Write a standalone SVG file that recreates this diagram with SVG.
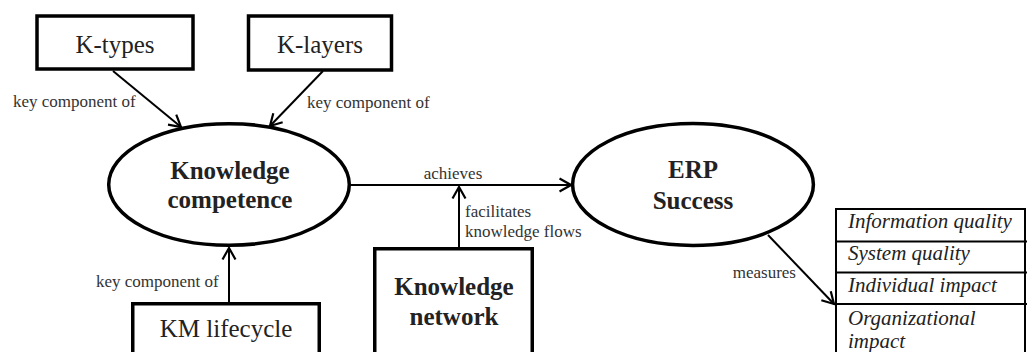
<svg xmlns="http://www.w3.org/2000/svg" width="1027" height="352" viewBox="0 0 1027 352">
  <defs>
    <marker id="open-arrow" viewBox="0 0 14 16" refX="12.5" refY="8" markerWidth="14" markerHeight="16" markerUnits="userSpaceOnUse" orient="auto">
      <path d="M1,1.5 L12.5,8 L1,14.5" fill="none" stroke="#000" stroke-width="2.2" stroke-linejoin="miter"/>
    </marker>
    <style>
      .box { fill: #fff; stroke: #000; stroke-width: 3.5; }
      .oval { fill: #fff; stroke: #000; stroke-width: 3.5; }
      .edge { fill: none; stroke: #000; stroke-width: 2; }
      .arrow { marker-end: url(#open-arrow); }
      text { font-family: 'Liberation Serif', Tinos, 'Times New Roman', Times, 'DejaVu Serif', serif; }
      .title { font-size: 25px; fill: #222; text-anchor: middle; }
      .bold { font-weight: bold; }
      .label { font-size: 17px; fill: #333; }
      .cell { font-size: 21px; font-style: italic; fill: #222; }
      .grid { fill: none; stroke: #000; stroke-width: 2; }
    </style>
  </defs>
  <rect width="1027" height="352" fill="#fff"/>

  <!-- connectors -->
  <g id="connectors">
    <line class="edge arrow" x1="113" y1="71" x2="181" y2="127"/>
    <line class="edge arrow" x1="323" y1="71" x2="270" y2="126"/>
    <line class="edge arrow" x1="229" y1="302" x2="229" y2="248"/>
    <line class="edge arrow" x1="351" y1="185" x2="571" y2="185"/>
    <line class="edge arrow" x1="459" y1="248" x2="459" y2="187"/>
    <line class="edge arrow" x1="768" y1="235" x2="834" y2="304"/>
    <text class="label" x="13" y="107">key component of</text>
    <text class="label" x="307" y="108">key component of</text>
    <text class="label" x="96" y="287">key component of</text>
    <text class="label" x="453" y="179" text-anchor="middle">achieves</text>
    <text class="label" x="465" y="217">facilitates</text>
    <text class="label" x="465" y="237">knowledge flows</text>
    <text class="label" x="796" y="278" text-anchor="end">measures</text>
  </g>

  <g id="k-types">
    <rect class="box" x="37" y="16" width="156" height="53"/>
    <text class="title" x="115" y="53">K-types</text>
  </g>

  <g id="k-layers">
    <rect class="box" x="248.5" y="16" width="143" height="54"/>
    <text class="title" x="320" y="53">K-layers</text>
  </g>

  <g id="knowledge-competence">
    <ellipse class="oval" cx="229" cy="184.5" rx="120.3" ry="60.8"/>
    <text class="title bold" x="230" y="179">Knowledge</text>
    <text class="title bold" x="230" y="208">competence</text>
  </g>

  <g id="erp-success">
    <ellipse class="oval" cx="693" cy="184.5" rx="120.4" ry="60.9"/>
    <text class="title bold" x="693" y="178">ERP</text>
    <text class="title bold" x="693" y="209">Success</text>
  </g>

  <g id="km-lifecycle">
    <rect class="box" x="132.75" y="303.75" width="186.5" height="70"/>
    <text class="title" x="226" y="337">KM lifecycle</text>
  </g>

  <g id="knowledge-network">
    <rect class="box" x="374.75" y="248.75" width="157.5" height="120"/>
    <text class="title bold" x="454" y="295">Knowledge</text>
    <text class="title bold" x="454" y="325">network</text>
  </g>

  <g id="success-measures">
    <rect class="grid" x="836" y="209" width="189" height="160" fill="#fff"/>
    <line class="grid" x1="836" y1="241.5" x2="1027" y2="241.5"/>
    <line class="grid" x1="836" y1="272.5" x2="1027" y2="272.5"/>
    <line class="grid" x1="836" y1="304" x2="1027" y2="304"/>
    <text class="cell" x="848" y="228">Information quality</text>
    <text class="cell" x="848" y="260">System quality</text>
    <text class="cell" x="848" y="292">Individual impact</text>
    <text class="cell" x="848" y="325">Organizational</text>
    <text class="cell" x="848" y="348">impact</text>
  </g>
</svg>
